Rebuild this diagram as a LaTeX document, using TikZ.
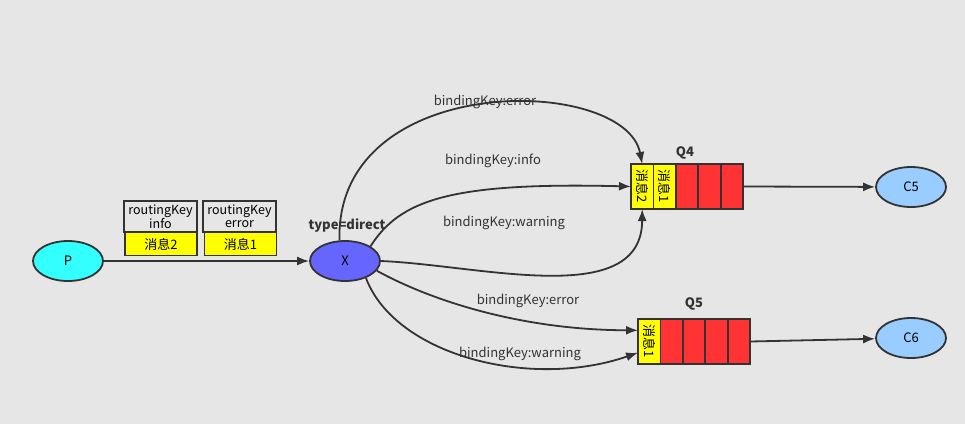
\documentclass[tikz,border=0pt]{standalone}
\usepackage{fontspec}
\usepackage{graphicx}
\setmainfont{Noto Sans CJK SC}
\usetikzlibrary{shapes.geometric,arrows.meta,positioning}
\definecolor{bggrey}{HTML}{E6E6E6}
\definecolor{edgegrey}{HTML}{333333}
\definecolor{pcyan}{HTML}{33FFFF}
\definecolor{xblue}{HTML}{6666FF}
\definecolor{cblue}{HTML}{99CCFF}
\definecolor{msgyellow}{HTML}{FFFF00}
\definecolor{qred}{HTML}{FF3333}
\tikzset{
  roundnode/.style={ellipse, draw=edgegrey, line width=1.8pt, minimum width=70pt, minimum height=40pt, inner sep=0pt},
  keybox/.style={draw=edgegrey, line width=1.8pt, minimum width=73pt, minimum height=31pt, inner sep=0pt, align=center, font=\fontsize{12.5}{13}\selectfont},
  msgbox/.style={draw=edgegrey, fill=msgyellow, line width=1.8pt, minimum width=72pt, minimum height=23pt, inner sep=0pt, font=\fontsize{13}{14}\selectfont},
  msgcell/.style={draw=edgegrey, fill=msgyellow, line width=1.8pt, minimum width=22.4pt, minimum height=45pt, inner sep=0pt, outer sep=0pt, font=\fontsize{13}{14}\selectfont},
  qcell/.style={draw=edgegrey, fill=qred, line width=1.8pt, minimum width=22.4pt, minimum height=45pt, inner sep=0pt, outer sep=0pt},
  link/.style={draw=edgegrey, line width=1.8pt, -{Latex[length=12pt,width=9pt]}},
  keylabel/.style={text=edgegrey},
  boldlabel/.style={text=edgegrey, font=\fontsize{13}{14}\selectfont\bfseries}
}
\begin{document}
\begin{tikzpicture}[x=1pt, y=-1pt, font=\fontsize{13}{15}\selectfont]
  \useasboundingbox (0,0) rectangle (965,424);
  \fill[bggrey] (0,0) rectangle (965,424);

  % producer and exchange
  \node[roundnode, fill=pcyan] (p) at (68,261) {P};
  \node[roundnode, fill=xblue] (x) at (345,261) {X};
  \node[boldlabel] (xtype) at (347,226) {type=direct};

  % messages on the way
  \node[keybox] (key1) at (160.5,216.5) {routingKey\\info};
  \node[msgbox] (msg1) at (161,244) {消息2};
  \node[keybox] (key2) at (239.5,216.5) {routingKey\\error};
  \node[msgbox] (msg2) at (240.5,244) {消息1};

  % queue Q4
  \node[msgcell] (q4a) at (642.2,186.5) {\rotatebox{-90}{消息2}};
  \node[msgcell, right=0pt of q4a] (q4b) {\rotatebox{-90}{消息1}};
  \node[qcell, right=0pt of q4b] (q4c) {};
  \node[qcell, right=0pt of q4c] (q4d) {};
  \node[qcell, right=0pt of q4d] (q4e) {};
  \node[boldlabel] (q4lbl) at (685,153) {Q4};

  % queue Q5
  \node[msgcell] (q5a) at (649.2,341.5) {\rotatebox{-90}{消息1}};
  \node[qcell, right=0pt of q5a] (q5b) {};
  \node[qcell, right=0pt of q5b] (q5c) {};
  \node[qcell, right=0pt of q5c] (q5d) {};
  \node[qcell, right=0pt of q5d] (q5e) {};
  \node[boldlabel] (q5lbl) at (694,304) {Q5};

  % consumers
  \node[roundnode, fill=cblue] (c5) at (911,187) {C5};
  \node[roundnode, fill=cblue] (c6) at (911,338) {C6};

  % links
  \draw[link] (p) -- (x);
  \draw[link] (q4e.east) -- (c5);
  \draw[link] (q5e.east) -- (c6);

  \draw[link] (x.105) .. controls (335,70) and (625,75) .. (q4a.north);
  \draw[link] (x.30) .. controls (400,200) and (450,182) .. (q4a.west);
  \draw[link] (x.east) .. controls (480,265) and (642,310) .. (q4a.south);
  \draw[link] (x.343) .. controls (430,300) and (520,330) .. (q5a.135);
  \draw[link] (x.321) .. controls (395,355) and (530,390) .. (q5a.225);

  % binding keys
  \node[keylabel] (b1) at (485,102) {bindingKey:error};
  \node[keylabel] (b2) at (493,161) {bindingKey:info};
  \node[keylabel] (b3) at (504,223) {bindingKey:warning};
  \node[keylabel] (b4) at (528,301) {bindingKey:error};
  \node[keylabel] (b5) at (520,354) {bindingKey:warning};
\end{tikzpicture}
\end{document}
